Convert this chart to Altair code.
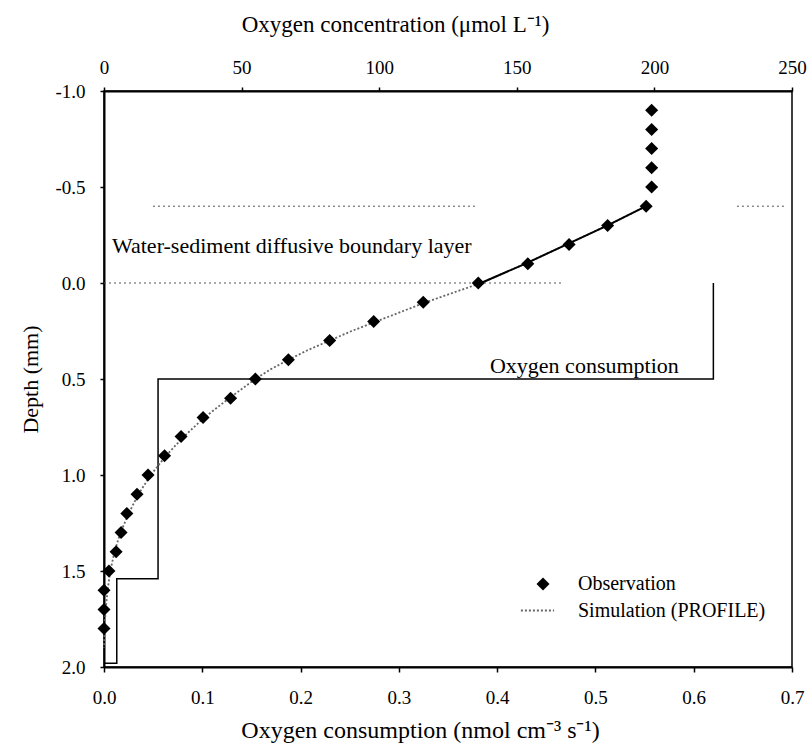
import altair as alt
import pandas as pd

FONT = "Liberation Serif"

# Measured O2 profile: depth (mm) and concentration (µmol/L)
obs_depth = [-0.9, -0.8, -0.7, -0.6, -0.5, -0.4, -0.3, -0.2, -0.1, 0.0,
             0.1, 0.2, 0.3, 0.4, 0.5, 0.6, 0.7, 0.8, 0.9, 1.0,
             1.1, 1.2, 1.3, 1.4, 1.5, 1.6, 1.7, 1.8]
obs_conc = [199, 199, 199, 199, 199, 197, 183, 169, 154, 136,
            116, 98, 82, 67, 55, 46, 36, 28, 22, 16,
            12, 8.3, 6.2, 4.4, 1.8, 0, 0, 0]

# PROFILE model fit
sim_depth = [-0.4, -0.3, -0.2, -0.1, 0.0, 0.05, 0.1, 0.15, 0.2, 0.25,
             0.3, 0.35, 0.4, 0.45, 0.5, 0.6, 0.7, 0.8, 0.9, 1.0,
             1.1, 1.2, 1.3, 1.4, 1.5, 1.6, 1.7, 1.8, 1.9]
sim_conc = [197, 183, 168, 153, 137, 127, 117, 108, 99, 90,
            82, 74, 67, 60.5, 55, 45.5, 36.5, 29, 22.5, 17,
            12.5, 9, 6, 3.8, 2.3, 1.3, 0.6, 0.2, 0]

# Consumption-rate zones (step profile), nmol cm-3 s-1
rate_depth = [0.0, 0.5, 0.5, 1.54, 1.54, 1.98, 1.98]
rate_value = [0.62, 0.62, 0.055, 0.055, 0.013, 0.013, 0.0]

# Limits of the diffusive boundary layer (dotted guides)
dbl_depth = [-0.4, -0.4, 0.0]
dbl_from = [17.8, 230, 0]
dbl_to = [134.8, 247.5, 167]

conc_ticks = [0, 50, 100, 150, 200, 250]
rate_ticks = [0.0, 0.1, 0.2, 0.3, 0.4, 0.5, 0.6, 0.7]
depth_ticks = [-1.0, -0.5, 0.0, 0.5, 1.0, 1.5, 2.0]

obs = pd.DataFrame({"depth": obs_depth, "conc": obs_conc, "series": "Observation"})
sim = pd.DataFrame({"depth": sim_depth, "conc": sim_conc,
                    "series": "Simulation (PROFILE)", "i": range(len(sim_depth))})
rate = pd.DataFrame({"depth": rate_depth, "rate": rate_value, "i": range(len(rate_depth))})
dbl = pd.DataFrame({"depth": dbl_depth, "conc": dbl_from, "conc2": dbl_to})

y_enc = alt.Y(
    "depth:Q",
    scale=alt.Scale(domain=[-1, 2], reverse=True, nice=False, zero=False),
    axis=alt.Axis(values=depth_ticks, title="Depth (mm)",
                  labelExpr="replace(format(datum.value, '.1f'), '\u2212', '-')",
                  tickSize=4, labelPadding=15, titlePadding=12,
                  labelFontSize=19, titleFontSize=22, domainWidth=2),
)

conc_axis = alt.Axis(orient="top", values=conc_ticks, format="d",
                     title="Oxygen concentration (\u03bcmol L\u207b\u00b9)",
                     tickSize=4, labelPadding=10, titlePadding=22, titleX=291,
                     labelFontSize=19, titleFontSize=23, domainWidth=2)
conc_scale = alt.Scale(domain=[0, 250], nice=False, zero=False)


def conc_x():
    return alt.X("conc:Q", scale=conc_scale, axis=conc_axis)


rate_x = alt.X(
    "rate:Q",
    scale=alt.Scale(domain=[0, 0.7], nice=False, zero=False),
    axis=alt.Axis(orient="bottom", values=rate_ticks, format=".1f",
                  title="Oxygen consumption (nmol cm\u207b\u00b3 s\u207b\u00b9)",
                  tickSize=5, labelPadding=16, titlePadding=11, titleX=316,
                  labelFontSize=19, titleFontSize=24, domainWidth=2),
)

guides = alt.Chart(dbl).mark_rule(color="#555555", strokeWidth=1, strokeDash=[2, 3]).encode(
    x=conc_x(), x2="conc2:Q", y=y_enc
)

sim_line = alt.Chart(sim).mark_line(color="#666666", strokeWidth=1.8).encode(
    x=conc_x(), y=y_enc, order=alt.Order("i:Q"),
    strokeDash=alt.StrokeDash(
        "series:N",
        scale=alt.Scale(domain=["Simulation (PROFILE)"], range=[[2, 2]]),
        legend=alt.Legend(title=None, orient="none", legendX=416, legendY=502,
                          symbolType="stroke", symbolSize=1100, symbolStrokeWidth=1.8,
                          symbolStrokeColor="#666666", labelOffset=23, padding=0,
                          labelLimit=0, labelFontSize=20, labelFont=FONT),
    ),
)

dbl_line = alt.Chart(sim).transform_filter("datum.depth <= 0").mark_line(
    color="black", strokeWidth=2
).encode(x=conc_x(), y=y_enc, order=alt.Order("i:Q"))

points = alt.Chart(obs).mark_point(filled=True, color="black", size=170, opacity=1).encode(
    x=conc_x(), y=y_enc,
    shape=alt.Shape(
        "series:N",
        scale=alt.Scale(domain=["Observation"], range=["diamond"]),
        legend=alt.Legend(title=None, orient="none", legendX=429, legendY=483,
                          symbolSize=170, symbolFillColor="black", symbolStrokeColor="black",
                          labelOffset=25, padding=0, labelLimit=0,
                          labelFontSize=20, labelFont=FONT),
    ),
)

dbl_label = alt.Chart(pd.DataFrame({"conc": [2.9], "depth": [-0.156],
                                    "t": ["Water-sediment diffusive boundary layer"]})).mark_text(
    align="left", baseline="alphabetic", fontSize=22, font=FONT, color="black"
).encode(x=conc_x(), y=y_enc, text="t:N")

conc_group = alt.layer(guides, sim_line, dbl_line, points, dbl_label)

steps = alt.Chart(rate).mark_line(color="black", strokeWidth=1.5).encode(
    x=rate_x, y=y_enc, order=alt.Order("i:Q")
)

rate_label = alt.Chart(pd.DataFrame({"rate": [0.3927], "depth": [0.469],
                                     "t": ["Oxygen consumption"]})).mark_text(
    align="left", baseline="alphabetic", fontSize=22, font=FONT, color="black"
).encode(x=rate_x, y=y_enc, text="t:N")

rate_group = alt.layer(steps, rate_label)

chart = (
    alt.layer(rate_group, conc_group)
    .resolve_scale(x="independent")
    .properties(
        width=688, height=576,
        autosize=alt.AutoSizeParams(type="none"),
        padding={"left": 104, "top": 91, "right": 20, "bottom": 78},
        background="white",
    )
    .configure_view(stroke="black", strokeWidth=1.5)
    .configure_axis(labelFont=FONT, titleFont=FONT, titleFontWeight="normal",
                    labelColor="black", titleColor="black", domainColor="black",
                    tickColor="black", tickWidth=1.5, grid=False, labelFlush=False)
    .configure_legend(labelColor="black")
)

chart.save("out.html", embed_options={"renderer": "svg", "actions": False})
